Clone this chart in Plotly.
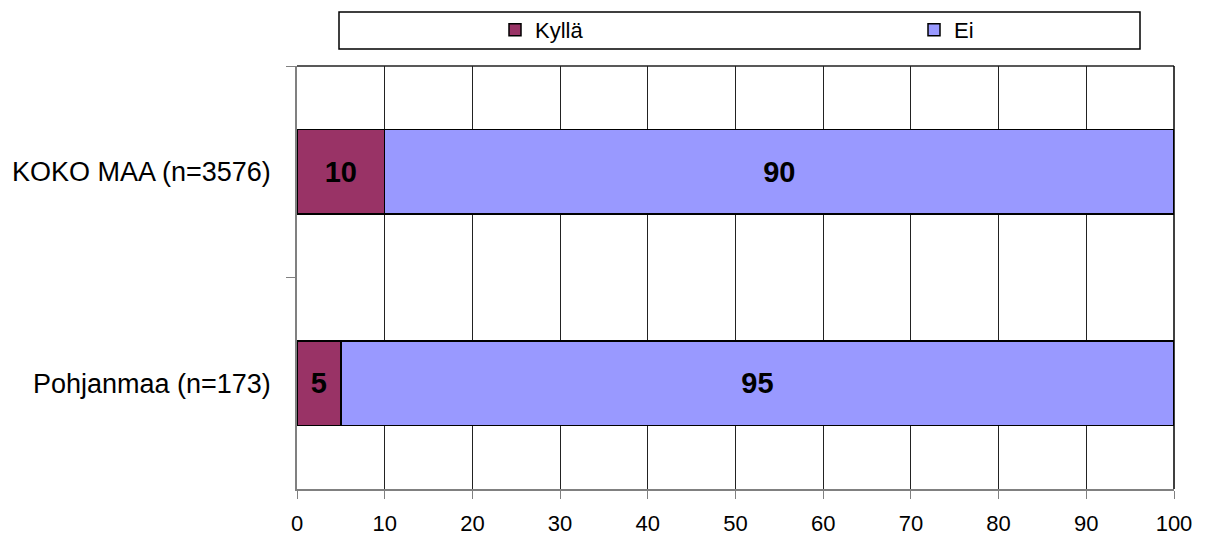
import plotly.graph_objects as go

# Data
categories = ["KOKO MAA (n=3576)", "Pohjanmaa (n=173)"]
kylla = [10, 5]
ei = [90, 95]
x_ticks = [0, 10, 20, 30, 40, 50, 60, 70, 80, 90, 100]

font_family = "Liberation Sans, Arial, sans-serif"

fig = go.Figure()

fig.add_trace(go.Bar(
    y=categories, x=kylla, name="Kyllä", orientation="h",
    marker=dict(color="#993366", line=dict(color="black", width=1.5)),
    texttemplate="<b>%{x}</b>", textposition="inside", insidetextanchor="middle",
    textangle=0, constraintext="none",
    textfont=dict(size=29, color="black", family=font_family),
))
fig.add_trace(go.Bar(
    y=categories, x=ei, name="Ei", orientation="h",
    marker=dict(color="#9999FF", line=dict(color="black", width=1.5)),
    texttemplate="<b>%{x}</b>", textposition="inside", insidetextanchor="middle",
    textangle=0, constraintext="none",
    textfont=dict(size=29, color="black", family=font_family),
))

fig.update_layout(
    barmode="stack",
    bargap=0.6,
    width=1206, height=537,
    margin=dict(l=297, r=32, t=66, b=48, autoexpand=False),
    paper_bgcolor="white",
    plot_bgcolor="white",
    font=dict(family=font_family, size=20, color="black"),
    showlegend=True,
    legend=dict(
        orientation="h",
        x=(495 - 297) / 877, xanchor="left",
        y=(489 - 30) / 423, yanchor="middle",
        entrywidth=374, entrywidthmode="pixels",
        font=dict(size=22, color="black"),
        bgcolor="rgba(0,0,0,0)",
        traceorder="normal",
    ),
    xaxis=dict(
        range=[0, 100],
        tickvals=x_ticks,
        showgrid=True, gridcolor="#222222", gridwidth=1,
        showline=True, linecolor="#808080", linewidth=1.5,
        ticks="outside", ticklen=8, tickcolor="#808080",
        ticklabelstandoff=6,
        zeroline=False,
        tickfont=dict(size=22),
    ),
    yaxis=dict(
        autorange="reversed",
        type="category",
        tickson="boundaries",
        showgrid=False,
        showline=True, linecolor="#808080", linewidth=1.5,
        ticks="outside", ticklen=9, tickcolor="#808080",
        ticklabelstandoff=19,
        tickfont=dict(size=27),
    ),
)

# legend box, top and right borders of plot area
fig.add_shape(type="rect", xref="paper", yref="paper",
              x0=(339 - 297) / 877, x1=(1140 - 297) / 877,
              y0=(489 - 49) / 423, y1=(489 - 12) / 423,
              line=dict(color="black", width=1.5), fillcolor="rgba(0,0,0,0)")
fig.add_shape(type="line", xref="paper", yref="paper", x0=0, x1=1, y0=1, y1=1,
              line=dict(color="#222222", width=1.5))
fig.add_shape(type="line", xref="paper", yref="paper", x0=1, x1=1, y0=0, y1=1,
              line=dict(color="black", width=1.5))

html_file = "out.html"
fig.write_html(html_file, config={"displayModeBar": False})

# drop the default body margin so the figure sits at the page corner
with open(html_file, "r", encoding="utf-8") as f:
    html_content = f.read()
html_content = html_content.replace("</head>", "<style>body { margin: 0; }</style></head>", 1)
with open(html_file, "w", encoding="utf-8") as f:
    f.write(html_content)
